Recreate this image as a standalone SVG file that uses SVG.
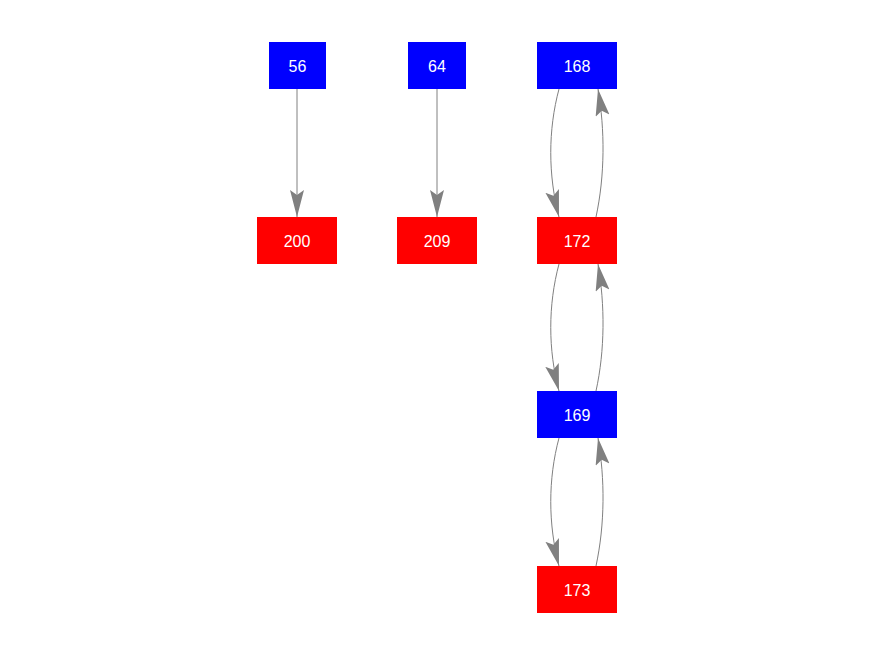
<svg xmlns="http://www.w3.org/2000/svg" width="876" height="656" viewBox="0 0 876 656">
<style>
.blue{fill:#0000ff}
.red{fill:#ff0000}
.lbl{fill:#ffffff;font-family:"Liberation Sans",Arial,sans-serif;font-size:16px;text-anchor:middle;dominant-baseline:central}
.edge{fill:none;stroke:#808080;stroke-width:1}
</style>
<defs>
<marker id="arr" markerUnits="userSpaceOnUse" markerWidth="28" markerHeight="16" refX="27" refY="7" orient="auto" viewBox="0 0 28 16">
<path d="M27,7 L0,0 L5,7 L0,14 Z" fill="#808080"/>
</marker>
</defs>
<rect width="876" height="656" fill="#ffffff"/>
<g id="connectors">
<path class="edge" d="M297,89 L297,217" marker-end="url(#arr)"/>
<path class="edge" d="M437,89 L437,217" marker-end="url(#arr)"/>
<path class="edge" d="M559,89 C548,130 548,175 559,217" marker-end="url(#arr)"/>
<path class="edge" d="M596,217 C605,175 605,130 598,89" marker-end="url(#arr)"/>
<path class="edge" d="M559,264 C548,305 548,350 559,391" marker-end="url(#arr)"/>
<path class="edge" d="M596,391 C605,350 605,305 598,264" marker-end="url(#arr)"/>
<path class="edge" d="M559,438 C548,479 548,524 559,566" marker-end="url(#arr)"/>
<path class="edge" d="M596,566 C605,524 605,479 598,438" marker-end="url(#arr)"/>
</g>
<g id="n56"><rect class="blue" x="269" y="42" width="57" height="47"/><text class="lbl" x="297.5" y="66">56</text></g>
<g id="n64"><rect class="blue" x="408" y="42" width="58" height="47"/><text class="lbl" x="437" y="66">64</text></g>
<g id="n168"><rect class="blue" x="537" y="42" width="80" height="47"/><text class="lbl" x="577" y="66">168</text></g>
<g id="n200"><rect class="red" x="257" y="217" width="80" height="47"/><text class="lbl" x="297" y="241">200</text></g>
<g id="n209"><rect class="red" x="397" y="217" width="80" height="47"/><text class="lbl" x="437" y="241">209</text></g>
<g id="n172"><rect class="red" x="537" y="217" width="80" height="47"/><text class="lbl" x="577" y="241">172</text></g>
<g id="n169"><rect class="blue" x="537" y="391" width="80" height="47"/><text class="lbl" x="577" y="415">169</text></g>
<g id="n173"><rect class="red" x="537" y="566" width="80" height="47"/><text class="lbl" x="577" y="590">173</text></g>
</svg>
